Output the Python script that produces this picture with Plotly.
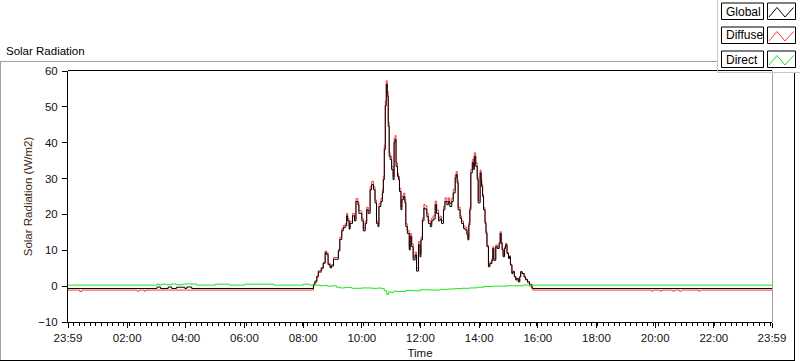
import plotly.graph_objects as go

# ---------------- data (minutes after 00:00; -1 == 23:59 of previous day) ----------------
day_time = [501, 504, 508, 511, 517, 521, 525, 528, 531, 535,
            538, 542, 549, 552, 555, 559, 562, 566, 569, 571,
            574, 576, 581, 585, 588, 592, 594, 600, 603, 607,
            610, 613, 617, 620, 624, 627, 630, 633, 635, 639,
            642, 644, 646, 648, 650, 652, 654, 656, 658, 661,
            664, 666, 668, 670, 673, 675, 677, 680, 682, 685,
            688, 690, 693, 697, 699, 702, 705, 709, 712, 716,
            719, 721, 724, 727, 729, 733, 736, 740, 743, 746,
            750, 753, 757, 760, 763, 767, 770, 774, 777, 780,
            784, 787, 791, 793, 795, 797, 801, 804, 808, 811,
            815, 817, 819, 821, 823, 826, 829, 830, 833, 836,
            838, 842, 844, 845, 847, 849, 852, 854, 856, 859,
            862, 866, 868, 870, 874, 877, 881, 883, 885, 887,
            889, 892, 894, 897, 900, 902, 904, 907, 909, 912,
            915, 917, 920, 923, 925, 928, 932, 935, 939, 943,
            948]

global_day = [0.5, 1.4, 2.8, 4.2, 5.1, 6.5, 9.3, 8.8, 6.0, 5.1,
              5.6, 7.5, 7.5, 9.8, 13.0, 15.4, 16.3, 16.8, 19.6, 18.2,
              15.9, 17.5, 19.6, 18.2, 23.6, 22.7, 20.3, 18.2, 15.4, 17.5,
              21.3, 20.3, 26.9, 28.3, 26.9, 23.2, 17.5, 16.6, 22.2, 23.6,
              26.0, 29.7, 38.1, 50.3, 56.3, 53.0, 44.6, 36.2, 35.3, 32.5,
              29.7, 40.0, 40.9, 33.4, 30.6, 29.7, 26.4, 21.3, 24.1, 25.0,
              23.2, 16.6, 14.7, 10.1, 13.8, 11.0, 7.3, 8.7, 4.2, 11.5,
              8.2, 12.9, 18.2, 21.8, 21.5, 19.4, 17.5, 16.6, 18.2, 18.7,
              22.7, 20.3, 18.2, 18.7, 17.5, 21.3, 23.6, 22.7, 23.6, 22.2,
              23.6, 26.0, 30.2, 31.1, 28.8, 21.3, 18.9, 17.5, 16.1, 15.7,
              14.3, 12.9, 17.1, 21.3, 31.6, 34.4, 32.5, 36.2, 33.4, 29.7,
              23.2, 31.6, 29.7, 27.8, 25.0, 21.3, 17.5, 14.7, 11.0, 5.4,
              6.3, 7.2, 10.5, 7.2, 11.0, 10.5, 11.9, 14.7, 11.9, 10.1,
              8.2, 10.5, 11.5, 9.1, 7.7, 8.2, 5.9, 3.5, 4.0, 2.6,
              1.7, 2.1, 1.2, 2.6, 4.0, 3.5, 2.6, 1.9, 1.2, 0.5,
              -0.5]

diffuse_day = [0.1, 1.0, 2.4, 3.8, 4.8, 6.3, 9.8, 9.3, 6.4, 5.5,
               6.0, 8.0, 8.0, 10.3, 13.6, 16.0, 16.9, 17.4, 20.3, 18.8,
               16.5, 18.1, 20.3, 18.8, 24.4, 23.4, 21.0, 18.9, 16.0, 18.2,
               22.0, 21.0, 27.8, 29.2, 27.7, 24.0, 18.2, 17.3, 23.0, 24.4,
               26.9, 30.7, 39.3, 51.6, 57.3, 54.3, 45.7, 37.2, 36.3, 33.4,
               30.6, 41.2, 42.0, 34.4, 31.5, 30.6, 27.3, 22.1, 25.0, 25.9,
               24.1, 17.4, 15.5, 10.9, 14.6, 11.8, 8.0, 9.5, 5.0, 12.4,
               9.0, 13.7, 19.0, 22.8, 22.4, 20.3, 18.3, 17.4, 19.0, 19.6,
               23.7, 21.2, 19.0, 19.5, 18.3, 22.2, 24.6, 23.6, 24.6, 23.1,
               24.5, 27.0, 31.1, 32.0, 29.6, 22.0, 19.6, 18.2, 16.8, 16.4,
               15.0, 13.5, 17.8, 22.0, 32.5, 35.4, 33.4, 37.2, 34.3, 30.5,
               23.9, 32.4, 30.4, 28.5, 25.6, 21.9, 18.0, 15.2, 11.4, 5.8,
               6.7, 7.6, 11.0, 7.6, 11.5, 10.9, 12.3, 15.2, 12.3, 10.5,
               8.5, 10.9, 11.9, 9.4, 8.0, 8.5, 6.1, 3.6, 4.2, 2.7,
               1.8, 2.2, 1.3, 2.7, 4.1, 3.5, 2.5, 1.7, 0.9, 0.0,
               -0.9]

global_am_time = [-1, 181, 188, 204, 211, 221, 238, 242, 252, 494]
global_am = [-0.65, -0.25, -0.65, -0.25, -0.65, -0.3, -0.65, -0.25, -0.65, -0.65]
global_pm_time = [950, 1439]
global_pm = [-0.65, -0.65]

diffuse_am_time = [-1, 23, 27, 140, 144, 155, 158, 494]
diffuse_am = [-1.1, -1.5, -1.1, -1.4, -1.1, -1.4, -1.1, -1.1]
diffuse_pm_time = [950, 1193, 1196, 1210, 1213, 1236, 1240, 1250, 1254, 1289, 1292, 1439]
diffuse_pm = [-1.1, -1.4, -1.1, -1.4, -1.1, -1.4, -1.1, -1.4, -1.1, -1.4, -1.1, -1.1]

direct_time = [-1, 181, 186, 190, 200, 210, 220, 235, 250, 262,
               300, 330, 360, 420, 480, 494, 505, 515, 522, 530,
               540, 548, 556, 565, 580, 600, 620, 635, 640, 646,
               651, 655, 660, 665, 675, 690, 705, 720, 740, 760,
               775, 790, 805, 820, 835, 850, 865, 880, 895, 910,
               930, 950, 1439]
direct_val = [0.28, 0.55, 0.3, 0.55, 0.4, 0.6, 0.4, 0.6, 0.6, 0.28,
              0.55, 0.28, 0.55, 0.28, 0.55, 0.28, 0.28, 0.1, 0.2, 0.0,
              0.1, -0.3, -0.5, -0.4, -0.6, -0.5, -0.6, -0.5, -0.7, -1.3,
              -2.3, -1.6, -1.8, -1.4, -1.5, -1.2, -1.3, -1.0, -1.1, -0.9,
              -0.8, -0.7, -0.6, -0.5, -0.3, -0.1, 0.0, 0.0, 0.1, 0.1,
              0.3, 0.28, 0.28]

tick_vals = [-1, 120, 240, 360, 480, 600, 720, 840, 960, 1080, 1200, 1320, 1439]
tick_text = ["23:59", "02:00", "04:00", "06:00", "08:00", "10:00", "12:00",
             "14:00", "16:00", "18:00", "20:00", "22:00", "23:59"]
y_ticks = [-10, 0, 10, 20, 30, 40, 50, 60]

series_names = ["Global", "Diffuse", "Direct"]
series_colors = ["#000000", "#ff3b3b", "#19e619"]

assert len(day_time) == len(global_day) == len(diffuse_day)
assert len(direct_time) == len(direct_val)

global_t = global_am_time + day_time + global_pm_time
global_v = global_am + global_day + global_pm
diffuse_t = diffuse_am_time + day_time + diffuse_pm_time
diffuse_v = diffuse_am + diffuse_day + diffuse_pm

# ---------------- figure ----------------
W, H = 800, 361
L, R, T, B = 68, 772, 71, 322
FONT = "Liberation Sans"

fig = go.Figure()
fig.add_trace(go.Scatter(x=diffuse_t, y=diffuse_v, mode="lines", name="Diffuse",
                         line=dict(color=series_colors[1], width=1, shape="hv")))
fig.add_trace(go.Scatter(x=global_t, y=global_v, mode="lines", name="Global",
                         line=dict(color=series_colors[0], width=1, shape="hv")))
fig.add_trace(go.Scatter(x=direct_time, y=direct_val, mode="lines", name="Direct",
                         line=dict(color=series_colors[2], width=1, shape="hv")))


def px(x):
    return (x - L) / (R - L)


def py(y):
    return (B - y) / (B - T)


shapes = []
ann = []

def line(x0, y0, x1, y1, color, w=1):
    shapes.append(dict(type="line", xref="paper", yref="paper", x0=px(x0), y0=py(y0),
                       x1=px(x1), y1=py(y1), line=dict(color=color, width=w)))

# outer frame
line(0, 61.5, 717, 61.5, "#a0a0a0")
line(0.5, 61, 0.5, 360, "#a0a0a0")
line(0, 360.5, 795, 360.5, "#000000")
line(794.5, 72, 794.5, 361, "#000000")
# plot frame (top and right)
line(L, T - 0.5, R, T - 0.5, "#000000")
line(R + 0.5, T, R + 0.5, B, "#a0a0a0")
# legend panel
line(717.5, 0, 717.5, 72.5, "#c8c8c8")
line(717, 72.5, 800, 72.5, "#c8c8c8")

for i, (name, col) in enumerate(zip(series_names, series_colors)):
    y0 = 3 + 24 * i
    shapes.append(dict(type="rect", xref="paper", yref="paper",
                       x0=px(721.5), x1=px(763.5), y0=py(y0), y1=py(y0 + 16.5),
                       line=dict(color="#000000", width=1), fillcolor="#ffffff"))
    shapes.append(dict(type="rect", xref="paper", yref="paper",
                       x0=px(767.5), x1=px(795.5), y0=py(y0), y1=py(y0 + 16.5),
                       line=dict(color="#000000", width=1), fillcolor="#ffffff"))
    pts = [(769, y0 + 14), (777, y0 + 4.5), (785, y0 + 14), (793.5, y0 + 4.5)]
    path = "M " + " L ".join(f"{px(a):.5f},{py(b):.5f}" for a, b in pts)
    shapes.append(dict(type="path", xref="paper", yref="paper", path=path,
                       line=dict(color=col, width=1)))
    ann.append(dict(text=name, xref="paper", yref="paper", x=px(723.5), y=py(y0 + 8.5),
                    xanchor="left", yanchor="middle", showarrow=False,
                    font=dict(family=FONT, size=12, color="#000000")))

ann.append(dict(text="Solar Radiation", xref="paper", yref="paper", x=px(4), y=py(51),
                xanchor="left", yanchor="middle", showarrow=False,
                font=dict(family=FONT, size=11.5, color="#000000")))

fig.update_layout(
    width=W, height=H,
    margin=dict(l=L, r=W - R, t=T, b=H - B, pad=0, autoexpand=False),
    paper_bgcolor="#ffffff", plot_bgcolor="#ffffff",
    showlegend=False,
    shapes=shapes, annotations=ann,
    font=dict(family=FONT, size=11.5, color="#111111"),
)
fig.update_xaxes(range=[-1, 1439], tickvals=tick_vals, ticktext=tick_text,
                 showgrid=False, zeroline=False, showline=True, linecolor="#000000",
                 linewidth=1, ticks="outside", ticklen=5, tickcolor="#000000",
                 ticklabelstandoff=0, automargin=False,
                 minor=dict(dtick=11.4, tick0=-1, ticks="outside", ticklen=3,
                            tickcolor="#000000", showgrid=False),
                 title=dict(text="Time", font=dict(family=FONT, size=11.5, color="#111111"),
                            standoff=6))
fig.update_yaxes(range=[-10, 60], tickvals=y_ticks, showgrid=False, zeroline=False,
                 showline=True, linecolor="#000000", linewidth=1, ticks="outside",
                 ticklen=5, tickcolor="#000000", ticklabelstandoff=2, automargin=False,
                 title=dict(text="Solar Radiation (W/m2)",
                            font=dict(family=FONT, size=11.5, color="#3a2810"), standoff=3))

fig.write_html("out.html", config={"displayModeBar": False},
               post_script="document.body.style.margin='0px';document.body.style.overflow='hidden';")
